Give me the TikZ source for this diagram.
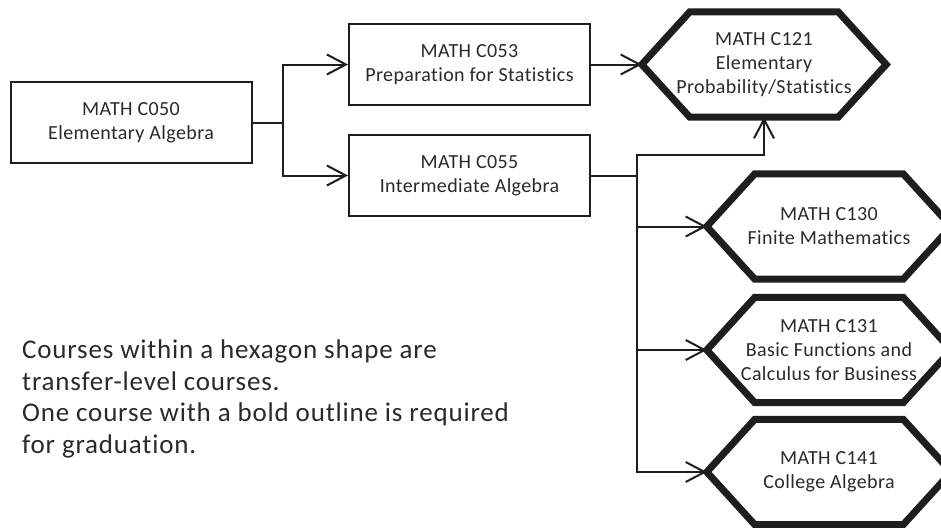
\documentclass[tikz,border=0pt]{standalone}
\usepackage{fontspec}
\setmainfont{Carlito}[Ligatures=NoCommon,LetterSpace=2]
\newfontfamily\notefont{Carlito}[Ligatures=NoCommon,LetterSpace=3]
\usetikzlibrary{arrows.meta,positioning,calc}
\definecolor{FlowInk}{HTML}{1E1E1E}
\definecolor{TextInk}{HTML}{2A2A2A}

\tikzset{
  course/.style={draw=FlowInk,line width=2pt,fill=white,minimum width=241pt,
    minimum height=81pt,align=center,text=TextInk,
    font=\fontsize{20}{24}\selectfont},
  transfer/.style={minimum width=244pt,minimum height=105pt,inner sep=0pt,
    align=center,text=TextInk,font=\fontsize{20}{24}\selectfont},
  hexline/.style={draw=FlowInk,line width=7pt},
  flow/.style={draw=FlowInk,line width=2pt,->},
}

\begin{document}
\begin{tikzpicture}[x=1pt,y=-1pt,>={Straight Barb[length=19pt,width=20pt]}]
  \useasboundingbox (0,0) rectangle (941,527);
  % developmental courses
  \node[course] (c050) at (131,122.5) {MATH C050\\Elementary Algebra};
  \node[course] (c053) at (469.5,64.5) {MATH C053\\Preparation for Statistics};
  \node[course] (c055) at (469.5,175.5) {MATH C055\\Intermediate Algebra};
  % transfer-level courses
  \node[transfer] (c121) at (764,64.5) {MATH C121\\Elementary\\Probability/Statistics};
  \node[transfer] (c130) at (829,226.5) {MATH C130\\Finite Mathematics};
  \node[transfer] (c131) at (829,350) {MATH C131\\Basic Functions and\\Calculus for Business};
  \node[transfer] (c141) at (829,472) {MATH C141\\College Algebra};
  \foreach \n in {c121,c130,c131,c141}
    \draw[hexline] (\n.west) -- ($(\n.north west)+(48,0)$) -- ($(\n.north east)+(-48,0)$)
      -- (\n.east) -- ($(\n.south east)+(-48,0)$) -- ($(\n.south west)+(48,0)$) -- cycle;
  % prerequisites
  \draw[flow] (c050.east) -- ++(30,0) |- (c053.west);
  \draw[flow] (c050.east) -- ++(30,0) |- (c055.west);
  \draw[flow] (c053.east) -- (c121.west);
  \draw[flow] (c055.east) -- ++(46,0) -- ++(0,-21) -| (c121.south);
  \foreach \n in {c130,c131,c141}
    \draw[flow] (c055.east) -- ++(46,0) |- (\n.west);
  \node[anchor=north west,align=left,inner sep=0pt,text=TextInk,
    font=\notefont\fontsize{27}{31.5}\selectfont] (note) at (22,340)
    {Courses within a hexagon shape are\\transfer-level courses.\\One course with a bold outline is required\\for graduation.};
\end{tikzpicture}
\end{document}
